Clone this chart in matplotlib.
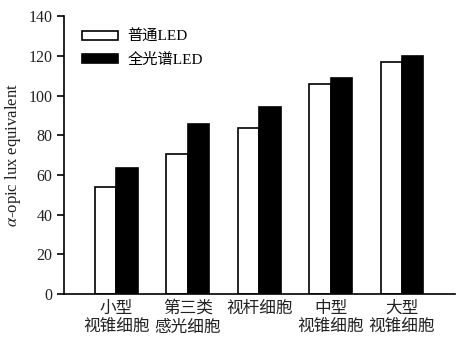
import matplotlib
matplotlib.use('Agg')
import matplotlib.pyplot as plt
import numpy as np

plt.rcParams['font.family'] = ['Liberation Serif', 'Noto Sans CJK SC']
plt.rcParams['mathtext.fontset'] = 'stix'

cats = ['小型\n视锥细胞', '第三类\n感光细胞', '视杆细胞', '中型\n视锥细胞', '大型\n视锥细胞']
normal = [54, 70.5, 83.5, 106, 117]
full = [63.5, 85.5, 94, 108.8, 120]

fig = plt.figure(figsize=(4.58, 3.42), dpi=100)
ax = fig.add_axes([0.14, 0.14, 0.853, 0.813])

x = np.arange(len(cats))
w = 0.3
ax.bar(x - w / 2, normal, w, color='white', edgecolor='black', linewidth=1.2, label='普通LED')
ax.bar(x + w / 2, full, w, color='black', edgecolor='black', linewidth=1.2, label='全光谱LED')

ax.set_xlim(-0.73, 4.74)
ax.set_ylim(0, 140)
ax.set_yticks(range(0, 141, 20))
ax.set_xticks(x)
ax.set_xticklabels(cats, fontsize=12, linespacing=1.2, color='#222222')
ax.tick_params(axis='x', length=0, pad=5)
ax.tick_params(axis='y', labelsize=11.5, length=5, width=1.2, direction='out', labelcolor='#222222')
ax.spines['top'].set_visible(False)
ax.spines['right'].set_visible(False)
ax.spines['left'].set_linewidth(1.2)
ax.spines['bottom'].set_linewidth(1.2)
ax.set_ylabel(r'$\alpha$-opic lux equivalent', fontsize=12, labelpad=4, color='#222222')

ax.legend(loc='upper left', bbox_to_anchor=(0.01, 1.0), frameon=False, fontsize=11,
          handlelength=2.4, handleheight=0.5, handletextpad=0.6, labelspacing=0.6)

fig.savefig('out.png', dpi=100)
